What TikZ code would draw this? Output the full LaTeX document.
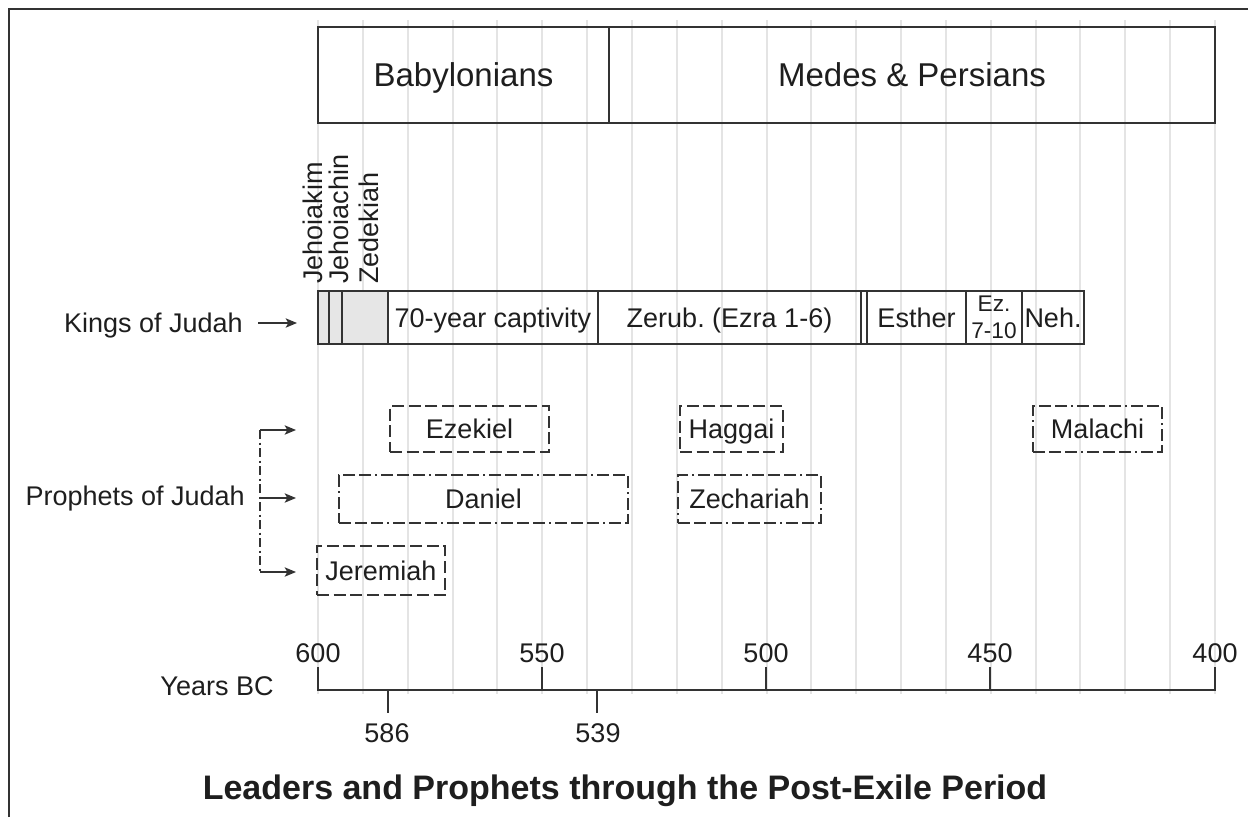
\documentclass[tikz,border=0pt]{standalone}
\usepackage{fontspec}
\setmainfont{Liberation Sans}
\usetikzlibrary{arrows.meta}
\definecolor{ln}{HTML}{333333}
\definecolor{gridc}{HTML}{E4E4E4}
\definecolor{fillg}{HTML}{E6E6E6}
\definecolor{txt}{HTML}{1E1E1E}
\frenchspacing
\newcommand\tbox[7]{\node[#7, minimum width={(#4-#2)*0.75pt}, minimum height={(#5-#3)*0.75pt}] (#1) at ({(#2+#4)/2},{(#3+#5)/2}) {#6};}
\tikzset{
  box/.style={draw=ln, line width=1.4pt, inner sep=0pt, text=txt},
  dbox/.style={box, dash pattern=on 9pt off 3.5pt},
  ddbox/.style={box, dash pattern=on 9pt off 3pt on 9pt off 3pt on 9pt off 3pt on 1.5pt off 3pt},
  lbl/.style={text=txt, font=\fontsize{20.25}{22}\selectfont, inner sep=0pt, text height=14.5pt, text depth=0pt},
  big/.style={font=\fontsize{24.75}{28}\selectfont, text height=17.7pt, text depth=0pt},
  arr/.style={draw=ln, line width=1.2pt, -{Stealth[length=8.5pt,width=7pt,inset=2pt]}},
  axisline/.style={draw=ln, line width=1.4pt},
}
\begin{document}
\begin{tikzpicture}[x=0.75pt,y=-0.75pt]
\useasboundingbox (0,0) rectangle (1248,817);
% frame
\draw[ln, line width=1.5pt] (9,817) -- (9,9) -- (1248,9);
% gridlines
\foreach \k in {0,...,20} \draw[gridc, line width=1.5pt] ({318+44.85*\k},20) -- ({318+44.85*\k},694);
% empires
\tbox{bab}{318}{27}{609}{123}{Babylonians}{box,big}
\tbox{med}{609}{27}{1215}{123}{Medes \& Persians}{box,big}
% kings bar
\tbox{jk}{318}{291}{329}{344}{}{box,fill=fillg}
\tbox{jn}{329}{291}{342}{344}{}{box,fill=fillg}
\tbox{zd}{342}{291}{388}{344}{}{box,fill=fillg}
\tbox{cap}{388}{291}{598}{344}{70-year captivity}{box,lbl}
\tbox{zer}{598}{291}{861}{344}{Zerub. (Ezra 1-6)}{box,lbl}
\tbox{gp}{861}{291}{867}{344}{}{box}
\tbox{est}{867}{291}{966}{344}{Esther}{box,lbl}
\tbox{ez}{966}{291}{1022}{344}{Ez.\\7-10}{box,align=center,font=\fontsize{17}{20}\selectfont}
\tbox{neh}{1022}{291}{1084}{344}{Neh.}{box,lbl}
% rotated king names
\node[lbl, rotate=90, anchor=base west] (jkt) at (322,284) {Jehoiakim};
\node[lbl, rotate=90, anchor=base west] (jnt) at (348,284) {Jehoiachin};
\node[lbl, rotate=90, anchor=base west] (zdt) at (378,284) {Zedekiah};
% prophets
\tbox{eze}{390}{406}{549}{452}{Ezekiel}{dbox,lbl}
\tbox{hag}{680}{406}{783}{452}{Haggai}{dbox,lbl}
\tbox{mal}{1033}{406}{1162}{452}{Malachi}{ddbox,lbl}
\tbox{dan}{339}{475}{628}{523}{Daniel}{ddbox,lbl}
\tbox{zec}{678}{475}{821}{523}{Zechariah}{ddbox,lbl}
\tbox{jer}{317}{546}{445}{595}{Jeremiah}{dbox,lbl}
% side labels
\node[lbl, anchor=east] (kj) at (243,323) {Kings of Judah};
\node[lbl, anchor=east] (pj) at (245,496) {Prophets of Judah};
\coordinate (kje) at (297,323);
\draw[arr] ([xshift=11.25pt]kj.east) -- (kje);
\coordinate (bt) at (260,430);
\coordinate (bm) at (260,498);
\coordinate (bb) at (260,572);
\coordinate (et) at (296,430);
\coordinate (em) at (296,498);
\coordinate (eb) at (296,572);
\draw[ln, line width=1.2pt, dash pattern=on 7pt off 2.5pt on 1.5pt off 2.5pt] (bt) -- (bb);
\draw[arr] (bt) -- (et);
\draw[arr] (bm) -- (em);
\draw[arr] (bb) -- (eb);
% axis
\draw[axisline] (318,667) -- (318,690) -- (1215,690) -- (1215,667);
\draw[axisline] (542,667) -- (542,690);
\draw[axisline] (766,667) -- (766,690);
\draw[axisline] (990,667) -- (990,690);
\draw[axisline] (388,690) -- (388,713);
\draw[axisline] (597,690) -- (597,713);
\node[lbl] (y600) at (318,653) {600};
\node[lbl] (y550) at (542,653) {550};
\node[lbl] (y500) at (766,653) {500};
\node[lbl] (y450) at (990,653) {450};
\node[lbl] (y400) at (1215,653) {400};
\node[lbl] (y586) at (387,733) {586};
\node[lbl] (y539) at (598,733) {539};
\node[lbl] (ybc) at (217,686) {Years BC};
% title
\node[text=txt, font=\bfseries\fontsize{25.5}{28}\selectfont, inner sep=0pt, text height=18.3pt, text depth=0pt] (title) at (625,787) {Leaders and Prophets through the Post-Exile Period};
\end{tikzpicture}
\end{document}
